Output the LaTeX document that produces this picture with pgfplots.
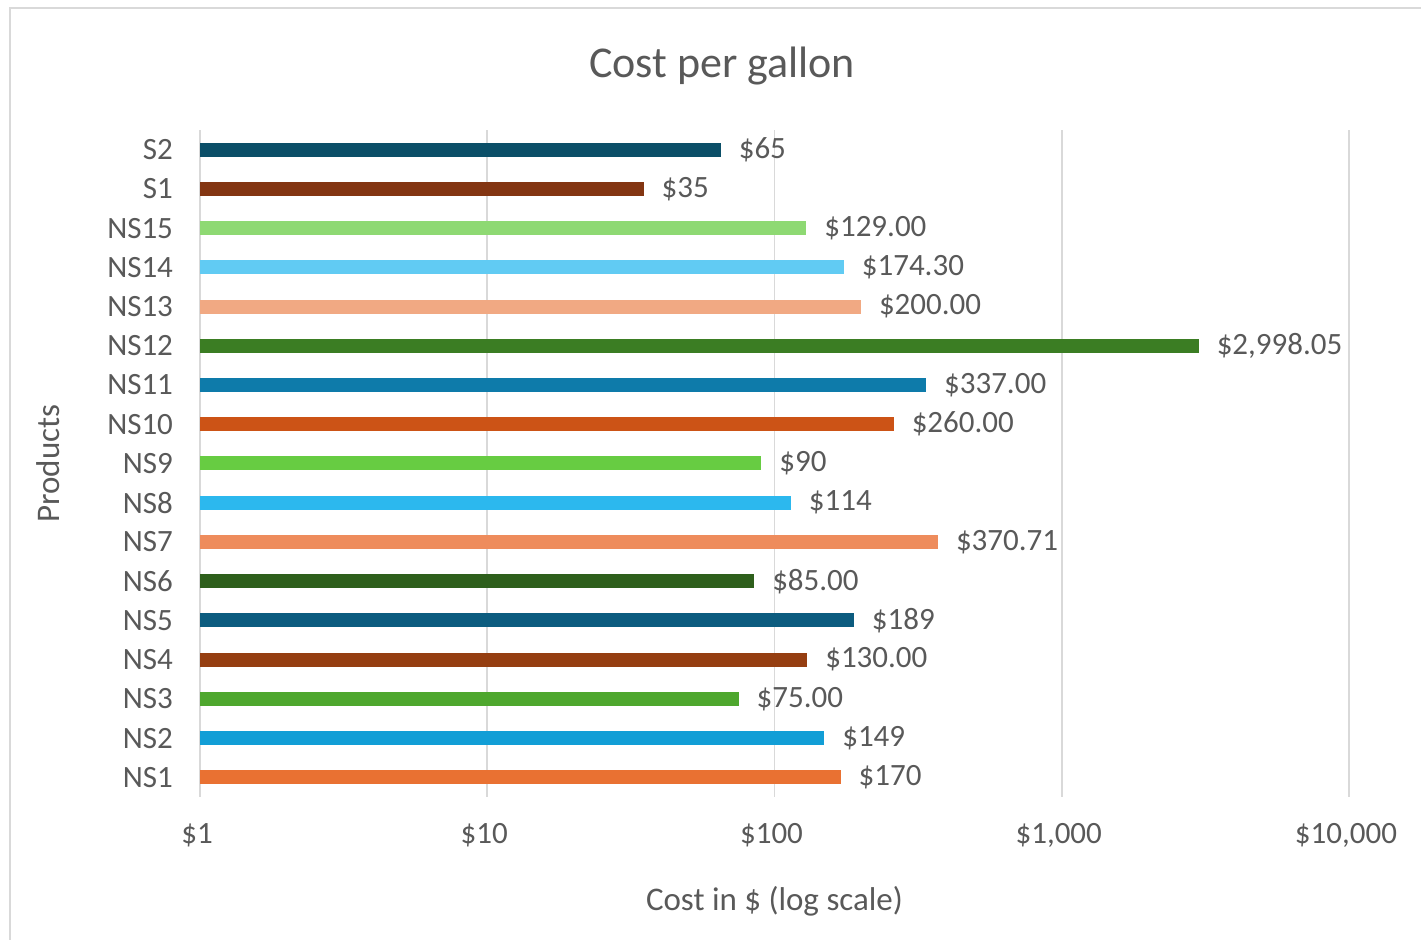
\documentclass[border=0pt]{standalone}
\usepackage{pgfplots}
\pgfplotsset{compat=1.18}
\usepackage{fontspec}
\setmainfont{Carlito}

\definecolor{txt}{HTML}{595959}
\definecolor{grd}{HTML}{D9D9D9}
\definecolor{cS2}{HTML}{0B4F68}
\definecolor{cS1}{HTML}{833512}
\definecolor{cNS15}{HTML}{8ED973}
\definecolor{cNS14}{HTML}{61CBF3}
\definecolor{cNS13}{HTML}{F1A983}
\definecolor{cNS12}{HTML}{3B7D23}
\definecolor{cNS11}{HTML}{0E7BAA}
\definecolor{cNS10}{HTML}{CC5316}
\definecolor{cNS9}{HTML}{67CC42}
\definecolor{cNS8}{HTML}{2CB8EE}
\definecolor{cNS7}{HTML}{EE8C5C}
\definecolor{cNS6}{HTML}{2E5F1C}
\definecolor{cNS5}{HTML}{0C5C7F}
\definecolor{cNS4}{HTML}{953E11}
\definecolor{cNS3}{HTML}{4EA72E}
\definecolor{cNS2}{HTML}{129ED6}
\definecolor{cNS1}{HTML}{E97132}

\pgfplotsset{
  onebar/.style={fill=#1, draw=none, bar shift=0pt, bar width=7pt},
}

\begin{document}
\begin{tikzpicture}
\useasboundingbox (-100pt,-71.5pt) rectangle (610.5pt,398.5pt);
\draw[grd, line width=0.8pt] (-95pt,-80pt) -- (-95pt,394.5pt) -- (620pt,394.5pt);
\begin{axis}[
  at={(0,0)}, anchor=south west,
  scale only axis,
  width=574.5pt, height=333.5pt,
  xbar,
  xmode=log,
  xmin=1, xmax=10000,
  ymin=-0.5, ymax=16.5,
  axis line style={draw=none},
  xmajorgrids,
  grid style={grd, line width=0.8pt},
  tick style={draw=none},
  major tick length=0pt,
  minor tick length=0pt,
  xtick={1,10,100,1000,10000},
  xticklabels={\$1,\$10,\$100,{\$1,000},{\$10,000}},
  ytick={0,...,16},
  yticklabels={NS1,NS2,NS3,NS4,NS5,NS6,NS7,NS8,NS9,NS10,NS11,NS12,NS13,NS14,NS15,S1,S2},
  tick label style={font=\fontsize{15.5pt}{18pt}\selectfont, text=txt},
  yticklabel style={xshift=-10pt},
  xticklabel style={yshift=-9.5pt, xshift=-1.5pt},
  xlabel={Cost in \$ (log scale)},
  ylabel={Products},
  label style={font=\fontsize{16.5pt}{19pt}\selectfont, text=txt},
  xlabel style={at={(axis description cs:0.5,0)}, anchor=center, yshift=-52pt},
  ylabel style={at={(axis description cs:0,0.5)}, anchor=center, xshift=0pt, yshift=76pt},
  title={Cost per gallon},
  title style={font=\fontsize{22pt}{26pt}\selectfont, text=txt, at={(rel axis cs:0.4543,1.1004)}, anchor=center, yshift=-7.5pt},
  point meta=explicit symbolic,
  nodes near coords,
  every node near coord/.append style={anchor=west, xshift=5.5pt, text=txt, font=\fontsize{15.5pt}{18pt}\selectfont},
  clip=false,
]
\addplot[onebar=cNS1]  coordinates {(170,0) [\$170]};
\addplot[onebar=cNS2]  coordinates {(149,1) [\$149]};
\addplot[onebar=cNS3]  coordinates {(75,2) [\$75.00]};
\addplot[onebar=cNS4]  coordinates {(130,3) [\$130.00]};
\addplot[onebar=cNS5]  coordinates {(189,4) [\$189]};
\addplot[onebar=cNS6]  coordinates {(85,5) [\$85.00]};
\addplot[onebar=cNS7]  coordinates {(370.71,6) [\$370.71]};
\addplot[onebar=cNS8]  coordinates {(114,7) [\$114]};
\addplot[onebar=cNS9]  coordinates {(90,8) [\$90]};
\addplot[onebar=cNS10] coordinates {(260,9) [\$260.00]};
\addplot[onebar=cNS11] coordinates {(337,10) [\$337.00]};
\addplot[onebar=cNS12] coordinates {(2998.05,11) [\$2,998.05]};
\addplot[onebar=cNS13] coordinates {(200,12) [\$200.00]};
\addplot[onebar=cNS14] coordinates {(174.3,13) [\$174.30]};
\addplot[onebar=cNS15] coordinates {(129,14) [\$129.00]};
\addplot[onebar=cS1]   coordinates {(35,15) [\$35]};
\addplot[onebar=cS2]   coordinates {(65,16) [\$65]};
\end{axis}
\end{tikzpicture}
\end{document}
